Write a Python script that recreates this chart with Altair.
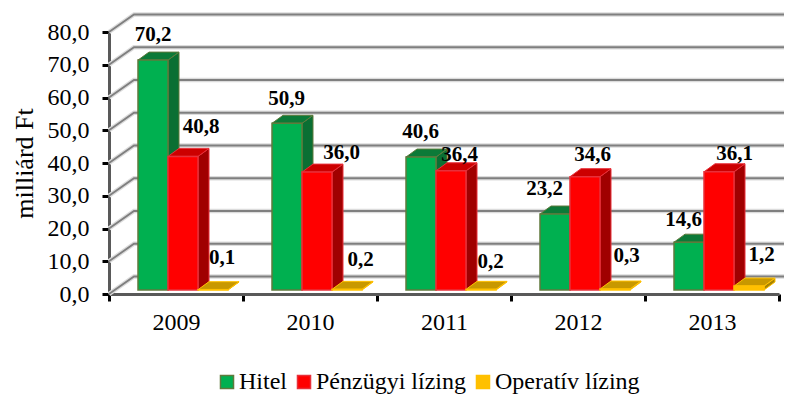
import altair as alt
import pandas as pd

years = ["2009", "2010", "2011", "2012", "2013"]
series = ["Hitel", "Pénzügyi lízing", "Operatív lízing"]
hitel = [70.2, 50.9, 40.6, 23.2, 14.6]
penzugyi = [40.8, 36.0, 36.4, 34.6, 36.1]
operativ = [0.1, 0.2, 0.2, 0.3, 1.2]
values = [hitel, penzugyi, operativ]

front = ["#00b050", "#ff0000", "#ffc000"]
edge = ["#5f7a3c", "#e8303a", "#ffc000"]
topc = ["#0c7a38", "#cc0000", "#c89800"]
sidec = ["#0a6f33", "#a00000", "#a88400"]

# label nudges, in pixels, relative to the top of each 3D bar
nudge_x = [[-5.5, -6, -6, -16, -11], [12.5, 19, 3, 2, 10], [3.5, 8, 4, 6, 7]]
nudge_y = [[-17, -16, -17, -17, -14], [-21, -11, -8, -14, -10], [-24, -21, -19, -25, -23]]

PX_X = 134     # pixels per category
PX_Y = 3.275   # pixels per value unit
W, H = 670, 262

to_x = lambda p: p / PX_X
to_y = lambda p: p / PX_Y

bar_w = to_x(30)
bar_start = to_x(29)
base = to_y(4)
dep_x, dep_y = to_x(11), to_y(8)
wall_x, wall_y = to_x(25), to_y(17.5)

fronts, labels = [], []
sides = [[], [], []]
tops = [[], [], []]
for s, name in enumerate(series):
    for g, year in enumerate(years):
        v = values[s][g]
        x0 = g + bar_start + s * bar_w
        x1 = x0 + bar_w
        yb, yt = base, base + v
        fronts.append(dict(series=name, x=x0, x2=x1, y=yb, y2=yt))
        sid = f"{s}-{g}"
        sides[s].append(dict(id=sid, x=x1, y=yb, y2=yt))
        sides[s].append(dict(id=sid, x=x1 + dep_x, y=yb + dep_y, y2=yt + dep_y))
        for px, lo, hi in [
            (x0, yt, yt),
            (x0 + dep_x, yt, yt + dep_y),
            (x1, yt, yt + dep_y),
            (x1 + dep_x, yt + dep_y, yt + dep_y),
        ]:
            tops[s].append(dict(id=sid, x=px, y=lo, y2=hi))
        labels.append(dict(
            t=f"{v:.1f}".replace(".", ","),
            x=x0 + bar_w / 2 + dep_x / 2 + to_x(nudge_x[s][g]),
            y=yt + dep_y - to_y(nudge_y[s][g]),
        ))

grid = []
for tick in range(0, 81, 10):
    grid.append(dict(id=tick, x=0, y=tick))
    grid.append(dict(id=tick, x=wall_x, y=tick + wall_y))
    grid.append(dict(id=tick, x=5 + wall_x, y=tick + wall_y))

xq = lambda f="x": alt.X(f"{f}:Q", scale=alt.Scale(domain=[0, 5], nice=False, zero=False), axis=None)
yq = alt.Y(
    "y:Q",
    scale=alt.Scale(domain=[0, 80], nice=False),
    title="milliárd Ft",
    axis=alt.Axis(
        values=list(range(0, 81, 10)),
        labelExpr="replace(format(datum.value, '.1f'), '.', ',')",
        tickSize=7, tickWidth=3, tickColor="#000000",
        domainWidth=3, domainColor="#595959", grid=False,
        labelFont="Liberation Serif", labelFontSize=24, labelColor="#000000", labelPadding=13,
        titleFont="Liberation Serif", titleFontSize=26, titleFontWeight="normal",
        titleColor="#000000", titlePadding=10,
    ),
)

gdf = pd.DataFrame(grid)
halo = alt.Chart(gdf).mark_line(color="#dcdcdc", strokeWidth=4.5).encode(x=xq(), y=yq, detail="id:N")
lines = alt.Chart(gdf).mark_line(color="#7f7f7f", strokeWidth=1.8).encode(x=xq(), y=yq, detail="id:N")

year_axis = alt.Chart(pd.DataFrame({"year": years})).mark_rule(opacity=0).encode(
    x=alt.X(
        "year:N",
        title=None,
        sort=years,
        scale=alt.Scale(paddingInner=0, paddingOuter=0),
        axis=alt.Axis(
            tickBand="extent", labelAngle=0, tickSize=7, tickWidth=3, tickColor="#000000",
            domainWidth=3, domainColor="#595959",
            labelFont="Liberation Serif", labelFontSize=24, labelColor="#000000", labelPadding=9,
        ),
    )
)


def faces(rows, fill, line):
    return alt.Chart(pd.DataFrame(rows)).mark_area(
        color=fill, stroke=line, strokeWidth=1, interpolate="linear", orient="vertical"
    ).encode(x=xq(), y=yq, y2="y2:Q", detail="id:N")


side_layers = [faces(sides[i], sidec[i], edge[i]) for i in range(3)]
top_layers = [faces(tops[i], topc[i], edge[i]) for i in range(3)]

front_layer = alt.Chart(pd.DataFrame(fronts)).mark_rect(strokeWidth=1.5).encode(
    x=xq(),
    x2="x2:Q",
    y=yq,
    y2="y2:Q",
    color=alt.Color(
        "series:N",
        scale=alt.Scale(domain=series, range=front),
        legend=alt.Legend(
            title=None, orient="none", direction="horizontal", legendX=106, legendY=338,
            symbolType="square", symbolSize=170, symbolStrokeWidth=1.5,
            labelFont="Liberation Serif", labelFontSize=24, labelColor="#000000",
            labelOffset=0, columnPadding=5, labelLimit=300,
        ),
    ),
    stroke=alt.Stroke("series:N", scale=alt.Scale(domain=series, range=edge), legend=None),
)

text_layer = alt.Chart(pd.DataFrame(labels)).mark_text(
    font="Liberation Serif", fontSize=21, fontWeight="bold", color="#000000", baseline="middle"
).encode(x=xq(), y=yq, text="t:N")

chart = (
    alt.layer(halo, lines, year_axis, *side_layers, *top_layers, front_layer, text_layer)
    .resolve_scale(x="independent")
    .properties(
        width=W,
        height=H,
        padding={"left": 101, "top": 24, "right": 5, "bottom": 101},
        autosize=alt.AutoSizeParams(type="none"),
        background="#ffffff",
    )
    .configure_view(stroke=None)
)

chart.save("out.html", embed_options={"renderer": "svg", "actions": False})
